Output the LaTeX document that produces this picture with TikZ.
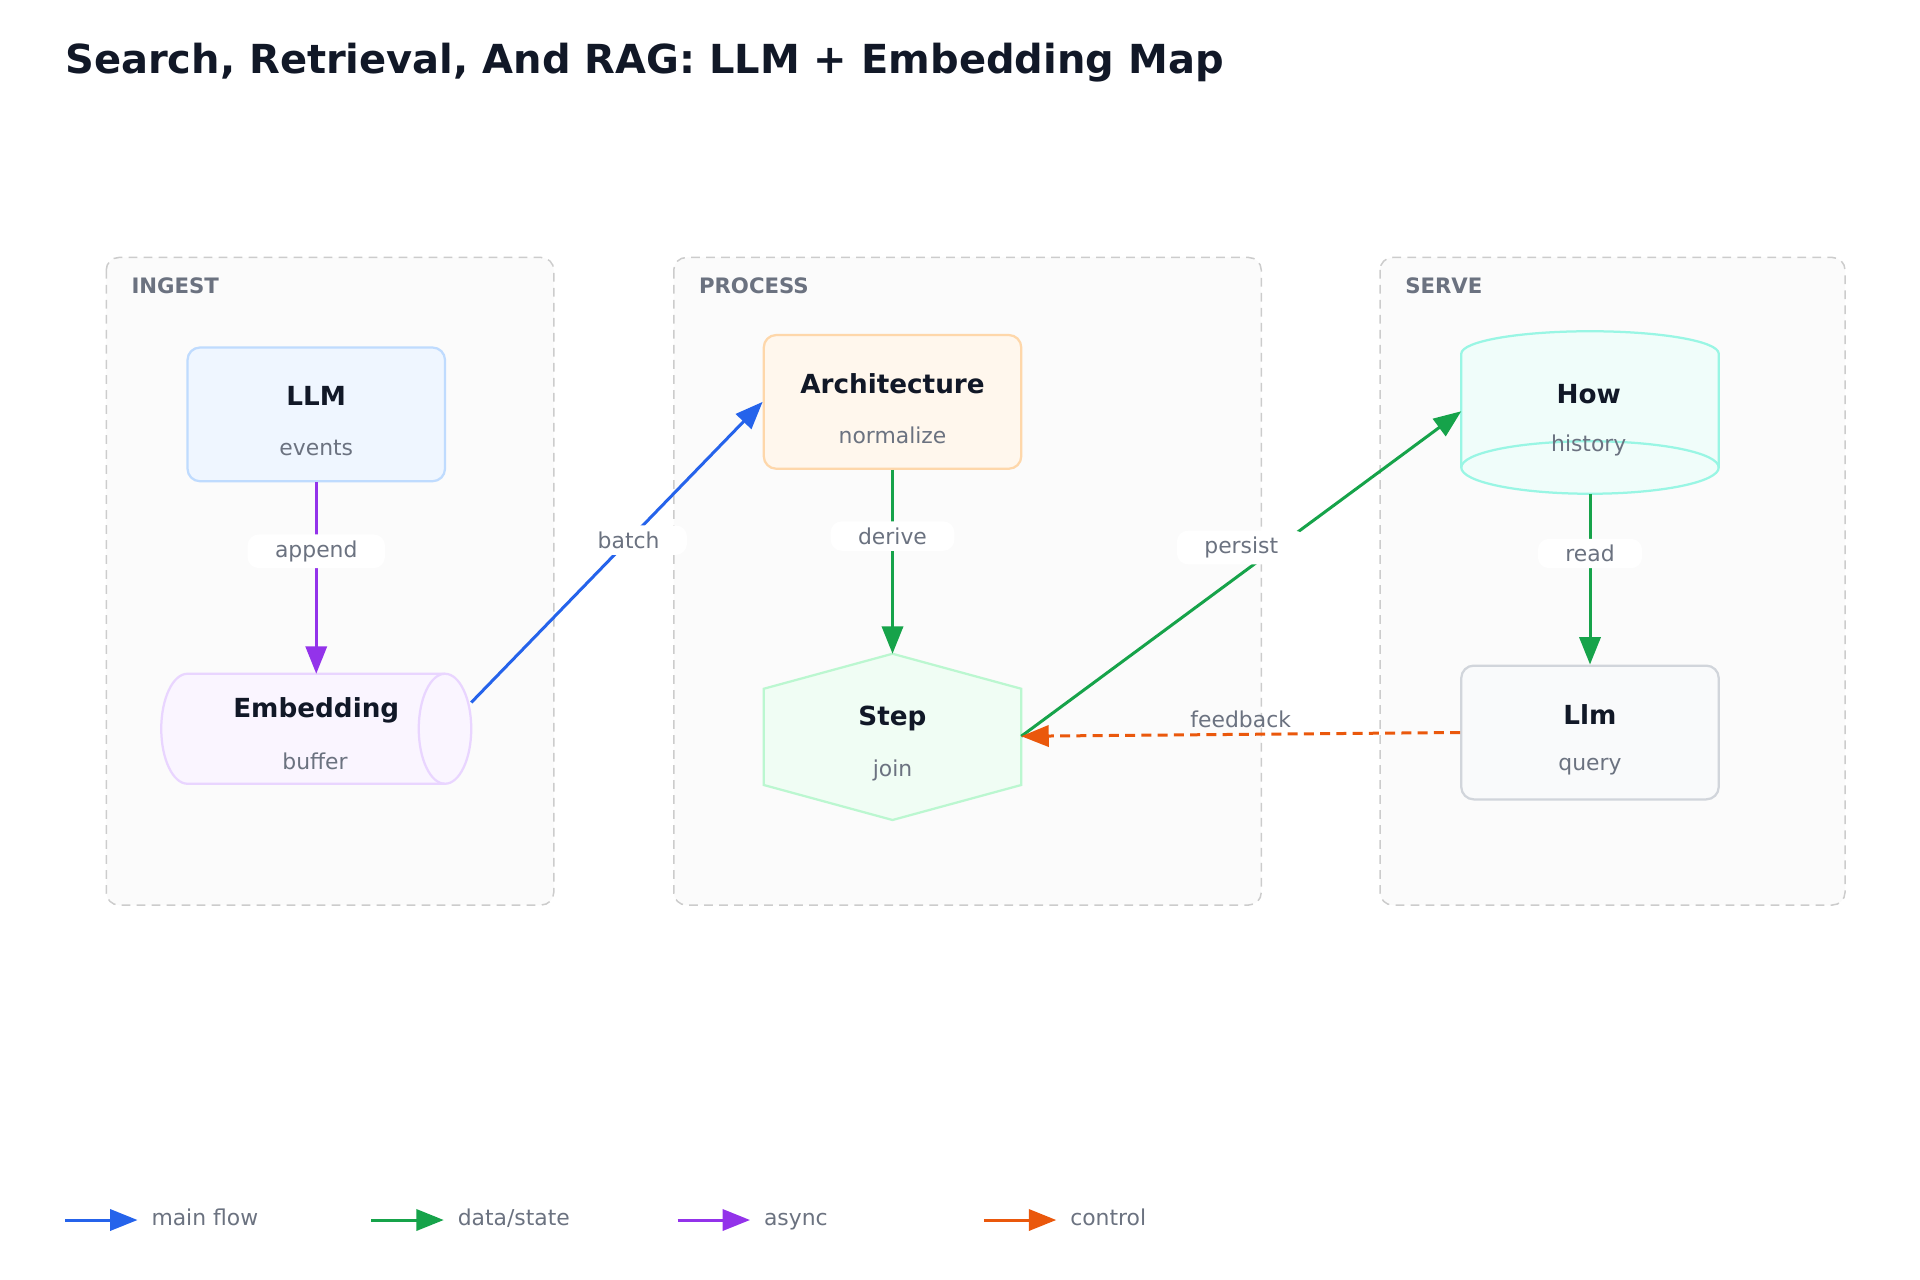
\documentclass[tikz,border=0pt]{standalone}
\usepackage{fontspec}
\setmainfont{DejaVu Sans}
\usetikzlibrary{shapes.geometric,arrows.meta}
\definecolor{ink}{HTML}{111827}
\definecolor{mute}{HTML}{6B7280}
\definecolor{cblue}{HTML}{2563EB}
\definecolor{cgreen}{HTML}{16A34A}
\definecolor{cpurple}{HTML}{9333EA}
\definecolor{corange}{HTML}{EA580C}
\definecolor{bS}{HTML}{BFDBFE}\definecolor{bF}{HTML}{EFF6FF}
\definecolor{pS}{HTML}{E9D5FF}\definecolor{pF}{HTML}{FAF5FF}
\definecolor{oS}{HTML}{FED7AA}\definecolor{oF}{HTML}{FFF7ED}
\definecolor{gS}{HTML}{BBF7D0}\definecolor{gF}{HTML}{F0FDF4}
\definecolor{tS}{HTML}{99F6E4}\definecolor{tF}{HTML}{F0FDFA}
\definecolor{nS}{HTML}{D1D5DB}\definecolor{nF}{HTML}{F9FAFB}
\tikzset{
 grp/.style={draw=black!20,line width=1.2pt,fill=black!1.5,rounded corners=10pt,dash pattern=on 7pt off 5pt},
 glab/.style={anchor=west,text=mute,font=\fontsize{17}{20}\selectfont\bfseries},
 ttl/.style={text=ink,font=\fontsize{21}{25}\selectfont\bfseries},
 sub/.style={text=mute,font=\fontsize{17.5}{21}\selectfont},
 box/.style={rounded corners=10pt,line width=1.8pt,minimum width=206pt,minimum height=107pt,inner sep=0},
 elab/.style={fill=white,rounded corners=9pt,text=mute,font=\fontsize{17.5}{21}\selectfont,inner xsep=22pt,inner ysep=5pt},
 edge/.style={line width=2.4pt,-{Triangle[length=22pt,width=17pt]}},
}
\begin{document}
\begin{tikzpicture}[x=1pt,y=-1pt]
\useasboundingbox (0,0) rectangle (1536,1024);
\node[anchor=west,text=ink,font=\fontsize{32}{38}\selectfont\bfseries,inner sep=0] (title) at (52,50) {Search, Retrieval, And RAG: LLM + Embedding Map};
\draw[grp] (85,206) rectangle (443,724);
\draw[grp] (539,206) rectangle (1009,724);
\draw[grp] (1104,206) rectangle (1476,724);
\node[glab,inner sep=0] (g1) at (105,229) {INGEST};
\node[glab,inner sep=0] (g2) at (559,229) {PROCESS};
\node[glab,inner sep=0] (g3) at (1124,229) {SERVE};
% LLM
\node[box,draw=bS,fill=bF] (llm) at (253,331.5) {};
\node[ttl] at (253,317) {LLM}; \node[sub] at (253,358) {events};
% Embedding cylinder
\draw[line width=1.8pt,draw=pS,fill=pF] (150,539) -- (356,539) arc[start angle=270,end angle=450,x radius=21,y radius=44] -- (150,627) arc[start angle=90,end angle=270,x radius=21,y radius=44] -- cycle;
\draw[line width=1.8pt,draw=pS] (356,539) arc[start angle=270,end angle=90,x radius=21,y radius=44];
\coordinate (embr) at (377,562);
\node[ttl] at (253,568) {Embedding}; \node[sub] at (252,609) {buffer};
% Architecture
\node[box,draw=oS,fill=oF] (arch) at (714,321.5) {};
\node[ttl] at (714,307) {Architecture}; \node[sub] at (714,348) {normalize};
% Step hexagon
\draw[line width=1.8pt,draw=gS,fill=gF] (714,523) -- (817,551) -- (817,628) -- (714,656) -- (611,628) -- (611,551) -- cycle;
\coordinate (steptop) at (714,523); \coordinate (stepr) at (817,589);
\node[ttl] at (714,575) {Step}; \node[sub] at (714,616) {join};
% How cylinder
\draw[line width=1.8pt,draw=tS,fill=tF] (1169,283) -- (1169,374) arc[start angle=180,end angle=0,x radius=103,y radius=21] -- (1375,283) arc[start angle=0,end angle=-180,x radius=103,y radius=18] -- cycle;
\draw[line width=1.8pt,draw=tS] (1169,374) arc[start angle=180,end angle=360,x radius=103,y radius=21];
\coordinate (howl) at (1169,329); \coordinate (howb) at (1272,395);
\node[ttl] at (1271,315) {How}; \node[sub] at (1271,356) {history};
% Llm
\node[box,draw=nS,fill=nF] (llm2) at (1272,586) {};
\node[ttl] at (1272,572) {Llm}; \node[sub] at (1272,613) {query};
% edges
\draw[edge,cpurple] (llm.south) -- node[elab,pos=0.36]{append} (253,539);
\draw[edge,cblue] (embr) -- node[elab,pos=0.54]{batch} (arch.west);
\draw[edge,cgreen] (arch.south) -- node[elab,pos=0.36]{derive} (steptop);
\draw[edge,cgreen] (stepr) -- node[elab,pos=0.5,yshift=21pt]{persist} (howl);
\draw[edge,cgreen] (howb) -- node[elab,pos=0.35]{read} (llm2.north);
\draw[edge,corange,dash pattern=on 8pt off 5pt] (llm2.west) -- node[above=1pt,text=mute,font=\fontsize{17.5}{21}\selectfont,pos=0.5]{feedback} (stepr);
% legend
\foreach \x/\c/\t [count=\i] in {52/cblue/main flow,297/cgreen/data\slash state,542/cpurple/async,787/corange/control}{
 \coordinate (la\i) at (\x,976); \coordinate (lb\i) at (\x+58,976);
 \draw[edge,\c] (la\i) -- (lb\i);
 \node[sub,anchor=west,inner sep=0] (lt\i) at (\x+69,976) {\strut\t};
}
\end{tikzpicture}
\end{document}
